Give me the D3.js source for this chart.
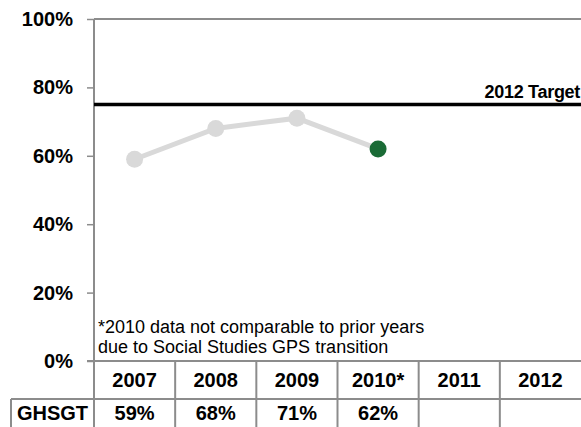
<!DOCTYPE html>
<html>
<head>
<meta charset="utf-8">
<script src="https://cdn.jsdelivr.net/npm/d3@7"></script>
<style>
  body { margin: 0; background: #fff; }
  svg { display: block; font-family: "Liberation Sans", Arial, sans-serif; }
</style>
</head>
<body>
<div id="chart"></div>
<script>
// Chart data
const years = ["2007", "2008", "2009", "2010*", "2011", "2012"];
const ghsgt = [59, 68, 71, 62, null, null];
const targetValue = 75;
const targetLabel = "2012 Target";
const yTicks = [0, 20, 40, 60, 80, 100];
const rowLabel = "GHSGT";
const footnote = ["*2010 data not comparable to prior years", "due to Social Studies GPS transition"];

const width = 581, height = 427;
const plotLeft = 94, plotTop = 19, plotBottom = 361;
const headerBottom = 399;
const gridColor = "#8c8c8c";

const svg = d3.select("#chart").append("svg")
  .attr("width", width)
  .attr("height", height);

// Scales
const x = d3.scaleBand().domain(years).range([plotLeft, width]);
const y = d3.scaleLinear().domain([0, 100]).range([plotBottom, plotTop]);

const points = years.map((yr, i) => ({ year: yr, value: ghsgt[i] }))
  .filter(d => d.value !== null);

// Top border of the plot
svg.append("line")
  .attr("x1", plotLeft).attr("x2", width)
  .attr("y1", y(100)).attr("y2", y(100))
  .attr("stroke", gridColor).attr("stroke-width", 2);

// Y axis
const yAxis = svg.append("g")
  .attr("transform", `translate(${plotLeft},0)`)
  .call(d3.axisLeft(y).tickValues(yTicks).tickSize(7).tickPadding(14).tickFormat(d => d + "%"));
yAxis.select(".domain").attr("stroke", gridColor).attr("stroke-width", 2)
  .attr("d", `M0,${plotTop}V${height}`);
yAxis.selectAll(".tick line").attr("stroke", gridColor).attr("stroke-width", 1.5);
yAxis.selectAll(".tick text")
  .attr("fill", "#000")
  .style("font-size", "20px")
  .style("font-weight", "bold");

// Target line
svg.append("line")
  .attr("x1", plotLeft).attr("x2", width)
  .attr("y1", y(targetValue)).attr("y2", y(targetValue))
  .attr("stroke", "#000").attr("stroke-width", 3.5);
svg.append("text")
  .attr("x", width - 1)
  .attr("y", y(targetValue) - 7)
  .attr("text-anchor", "end")
  .style("font-size", "18px")
  .style("font-weight", "bold")
  .style("letter-spacing", "-0.3px")
  .text(targetLabel);

// Line + markers
const cx = d => x(d.year) + x.bandwidth() / 2;
svg.append("path")
  .datum(points)
  .attr("fill", "none")
  .attr("stroke", "#d9d9d9")
  .attr("stroke-width", 5)
  .attr("d", d3.line().x(cx).y(d => y(d.value)));

svg.selectAll("circle.pt")
  .data(points)
  .join("circle")
  .attr("class", "pt")
  .attr("cx", cx)
  .attr("cy", d => y(d.value))
  .attr("r", 8.5)
  .attr("fill", (d, i) => i === points.length - 1 ? "#1a6b36" : "#d9d9d9");

// Footnote
svg.append("text")
  .style("font-size", "18px")
  .selectAll("tspan")
  .data(footnote)
  .join("tspan")
  .attr("x", 98)
  .attr("y", (d, i) => 333 + i * 20)
  .text(d => d);

// Data table
const table = svg.append("g");
// horizontal rules
table.append("line")
  .attr("x1", plotLeft - 7).attr("x2", width)
  .attr("y1", plotBottom).attr("y2", plotBottom)
  .attr("stroke", gridColor).attr("stroke-width", 2);
table.append("line")
  .attr("x1", 11).attr("x2", width)
  .attr("y1", headerBottom).attr("y2", headerBottom)
  .attr("stroke", gridColor).attr("stroke-width", 2);
table.append("line")
  .attr("x1", 11).attr("x2", 11)
  .attr("y1", headerBottom).attr("y2", height)
  .attr("stroke", gridColor).attr("stroke-width", 2);
// vertical separators between years
table.selectAll("line.sep")
  .data(years.slice(1))
  .join("line")
  .attr("class", "sep")
  .attr("x1", d => x(d)).attr("x2", d => x(d))
  .attr("y1", plotBottom).attr("y2", height)
  .attr("stroke", gridColor).attr("stroke-width", 2);

table.selectAll("text.hdr")
  .data(years)
  .join("text")
  .attr("class", "hdr")
  .attr("x", d => x(d) + x.bandwidth() / 2)
  .attr("y", 387)
  .attr("text-anchor", "middle")
  .style("font-size", "20px")
  .style("font-weight", "bold")
  .text(d => d);

table.append("text")
  .attr("x", (11 + plotLeft) / 2)
  .attr("y", 420)
  .attr("text-anchor", "middle")
  .style("font-size", "20px")
  .style("font-weight", "bold")
  .text(rowLabel);

table.selectAll("text.val")
  .data(points)
  .join("text")
  .attr("class", "val")
  .attr("x", cx)
  .attr("y", 420)
  .attr("text-anchor", "middle")
  .style("font-size", "20px")
  .style("font-weight", "bold")
  .text(d => d.value + "%");
</script>
</body>
</html>
